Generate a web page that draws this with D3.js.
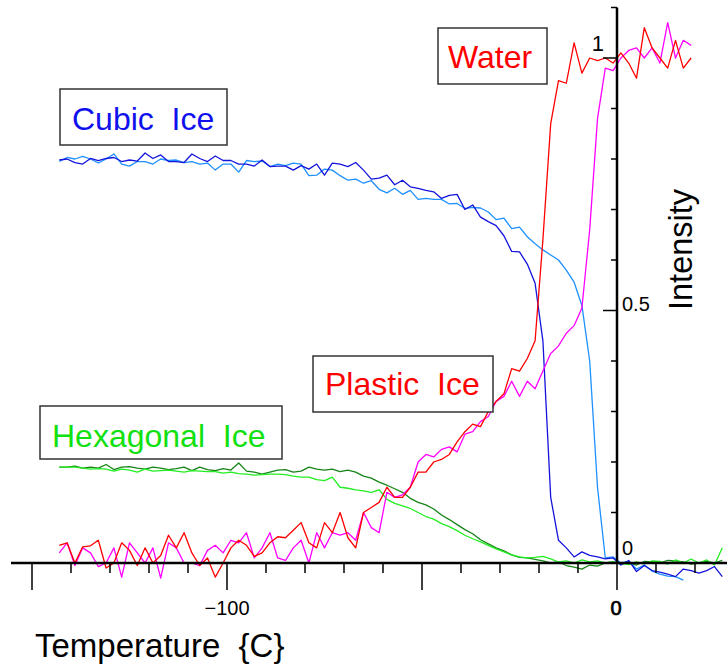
<!DOCTYPE html>
<html>
<head>
<meta charset="utf-8">
<script src="https://cdn.jsdelivr.net/npm/d3@7"></script>
<style>
  body { margin: 0; background: #fff; }
  svg { display: block; font-family: "Liberation Sans", Arial, sans-serif; }
</style>
</head>
<body>
<svg id="chart" width="727" height="666"></svg>
<script>
// temperature grid (C)
const temps = [-143,-141,-139,-137,-135,-133,-131,-129,-127,-125,-123,-121,-119,-117,-115,-113,-111,-109,-107,-105,
  -103,-101,-99,-97,-95,-93,-91,-89,-87,-85,-83,-81,-79,-77,-75,-73,-71,-69,-67,-65,
  -63,-61,-59,-57,-55,-53,-51,-49,-47,-45,-43,-41,-39,-37,-35,-33,-31,-29,-27,-25,
  -23,-21,-19,-17,-15,-13,-11,-9,-7,-5,-3,-1,1,3,5,7,9,11,13,15,17,19,21,23,25,27];

// plastic ice -> water (first run)
const redVals = [0.035,0.04,0.0,0.032,0.034,0.045,-0.01,0.0,0.04,0.025,-0.005,0.03,0.0,0.015,0.055,0.03,0.06,0.02,-0.005,0.01,
  -0.028,0.0,0.03,0.045,0.035,0.013,0.02,0.04,0.052,0.05,0.065,0.08,0.04,0.03,0.08,0.06,0.1,0.05,0.03,0.1,
  0.11,0.12,0.15,0.13,0.13,0.15,0.18,0.18,0.2,0.205,0.215,0.24,0.26,0.275,0.27,0.3,0.32,0.335,0.385,0.38,
  0.405,0.44,0.64,0.87,0.955,0.95,1.03,0.97,1.0,0.995,1.0,0.99,1.01,0.99,0.96,1.06,1.02,1.0,0.98,1.035,0.98,1.0];

// plastic ice -> water (second run)
const magentaVals = [0.02,0.04,-0.005,0.03,0.02,-0.007,0.0,0.03,-0.028,0.04,0.02,0.0,0.03,-0.03,0.04,0.03,0.0,0.0,-0.005,0.025,
  0.035,0.02,0.045,0.04,0.06,0.01,0.03,0.06,0.01,0.005,0.03,0.045,0.0,0.06,0.03,0.06,0.055,0.06,0.045,0.1,
  0.07,0.06,0.14,0.13,0.135,0.15,0.2,0.215,0.21,0.225,0.23,0.22,0.255,0.26,0.28,0.29,0.32,0.33,0.36,0.33,
  0.36,0.345,0.38,0.415,0.43,0.455,0.47,0.505,0.66,0.88,0.98,0.975,1.0,1.015,1.02,1.0,1.02,0.99,1.07,1.0,1.035,1.025];

// cubic ice
const blueVals = [0.798,0.8,0.793,0.79,0.801,0.797,0.801,0.803,0.795,0.798,0.796,0.812,0.801,0.808,0.795,0.795,0.793,0.81,0.801,0.795,
  0.806,0.797,0.797,0.79,0.79,0.786,0.798,0.785,0.786,0.786,0.778,0.787,0.78,0.79,0.768,0.792,0.79,0.785,0.793,0.778,
  0.76,0.762,0.768,0.749,0.758,0.745,0.742,0.738,0.735,0.722,0.728,0.73,0.7,0.709,0.685,0.676,0.668,0.648,0.617,0.616,
  0.592,0.554,0.44,0.13,0.045,0.03,0.012,0.022,0.015,0.012,0.008,0.01,-0.004,0.005,-0.017,-0.005,-0.015,-0.018,-0.022,-0.027,
  -0.012,-0.015,-0.02,-0.015,-0.007,-0.027];

const lightBlueVals = [0.795,0.803,0.8,0.805,0.8,0.792,0.8,0.81,0.79,0.786,0.795,0.795,0.79,0.8,0.797,0.798,0.793,0.795,0.79,0.792,
  0.778,0.79,0.79,0.774,0.797,0.795,0.796,0.785,0.79,0.787,0.792,0.79,0.767,0.768,0.78,0.778,0.767,0.758,0.76,0.752,
  0.757,0.74,0.733,0.742,0.73,0.738,0.72,0.722,0.72,0.72,0.711,0.712,0.702,0.704,0.703,0.695,0.68,0.683,0.662,0.665,
  0.646,0.632,0.62,0.61,0.6,0.58,0.556,0.51,0.4,0.15,0.01,0.012,0.0,0.003,-0.012,-0.004,-0.016,-0.022,-0.026,-0.027,
  -0.034];

// hexagonal ice
const darkGreenVals = [0.19,0.19,0.192,0.188,0.19,0.188,0.195,0.185,0.19,0.191,0.188,0.186,0.19,0.188,0.185,0.187,0.19,0.183,0.19,0.185,
  0.183,0.187,0.184,0.198,0.182,0.18,0.176,0.18,0.184,0.185,0.18,0.182,0.19,0.186,0.184,0.186,0.181,0.184,0.18,0.172,
  0.168,0.16,0.154,0.147,0.14,0.128,0.12,0.115,0.107,0.095,0.086,0.076,0.066,0.058,0.046,0.038,0.03,0.024,0.016,0.011,
  0.01,0.007,0.004,0.0,0.002,-0.005,-0.008,-0.012,-0.004,-0.006,0.0,0.002,-0.002,0.0,-0.004,0.003,0.002,0.0,0.005,0.004,
  0.002,-0.002,0.0,0.003,0.0,0.005];

const lightGreenVals = [0.19,0.19,0.19,0.188,0.186,0.187,0.186,0.182,0.186,0.184,0.18,0.186,0.182,0.183,0.184,0.182,0.18,0.183,0.182,0.181,
  0.181,0.178,0.18,0.177,0.176,0.174,0.175,0.176,0.176,0.175,0.172,0.17,0.17,0.165,0.163,0.17,0.15,0.148,0.145,0.143,
  0.14,0.145,0.126,0.118,0.113,0.108,0.1,0.092,0.087,0.078,0.072,0.064,0.055,0.048,0.042,0.035,0.028,0.022,0.016,0.012,
  0.01,0.011,0.013,0.008,0.002,0.004,0.0,0.006,0.002,0.004,0.0,0.002,0.0,-0.003,0.002,-0.002,0.004,0.003,-0.002,0.006,
  0.0,0.008,0.0,0.006,-0.004,0.03];

const series = [
  { values: darkGreenVals, color: "#178417" },
  { values: lightGreenVals, color: "#22ee22" },
  { values: lightBlueVals, color: "#1e90ff" },
  { values: blueVals, color: "#1414dc" },
  { values: magentaVals, color: "#ff00ff" },
  { values: redVals, color: "#ff0000" }
];

const labels = [
  { text: "Water", color: "#ff0000", box: [438, 28, 109, 56], tx: 448, ty: 68 },
  { text: "Cubic  Ice", color: "#1010ee", box: [60, 89, 167, 56], tx: 72, ty: 130 },
  { text: "Plastic  Ice", color: "#ff0000", box: [313, 356, 180, 56], tx: 325, ty: 395 },
  { text: "Hexagonal  Ice", color: "#11e011", box: [40, 406, 242, 53], tx: 52, ty: 447 }
];

const xMinor = [-150,-140,-130,-120,-110,-100,-90,-80,-70,-60,-50,-40,-30,-20,-10,0,10,20];
const xMajor = [-150,-100,-50,0];
const yMinor = [0,0.1,0.2,0.3,0.4,0.5,0.6,0.7,0.8,0.9,1.0,1.1];
const yMajor = [0,0.5,1];

const svg = d3.select("#chart");
const x = d3.scaleLinear().domain([-150, 0]).range([32, 617]);
const y = d3.scaleLinear().domain([0, 1]).range([563, 58]);

const line = d3.line()
  .x(d => x(d[0]))
  .y(d => y(d[1]));

// data lines
series.forEach(s => {
  const pts = s.values.map((v, i) => [temps[i], v]);
  svg.append("path")
    .datum(pts)
    .attr("fill", "none")
    .attr("stroke", s.color)
    .attr("stroke-width", 1.3)
    .attr("stroke-linejoin", "round")
    .attr("d", line);
});

// x axis
svg.append("line")
  .attr("x1", 11).attr("x2", 727)
  .attr("y1", y(0)).attr("y2", y(0))
  .attr("stroke", "#000").attr("stroke-width", 2.5);

svg.append("g").selectAll("line")
  .data(xMinor)
  .join("line")
  .attr("x1", d => x(d)).attr("x2", d => x(d))
  .attr("y1", y(0)).attr("y2", d => y(0) + (xMajor.includes(d) ? 27 : 10))
  .attr("stroke", "#000").attr("stroke-width", 1.5);

svg.append("text")
  .attr("x", x(-100)).attr("y", 615)
  .attr("text-anchor", "middle")
  .style("font-size", "20px")
  .text("\u2212100");
// the zero label is printed slightly doubled in the original
svg.append("text")
  .attr("x", x(0) - 1).attr("y", 615)
  .attr("text-anchor", "middle")
  .attr("stroke", "#000").attr("stroke-width", 0.7)
  .style("font-size", "20px")
  .text("0");

svg.append("text")
  .attr("x", 35).attr("y", 657)
  .style("font-size", "33px")
  .attr("xml:space", "preserve")
  .text("Temperature  {C}");

// y axis
svg.append("line")
  .attr("x1", x(0)).attr("x2", x(0))
  .attr("y1", y(1.1)).attr("y2", y(0))
  .attr("stroke", "#000").attr("stroke-width", 2.5);

svg.append("g").selectAll("line")
  .data(yMinor)
  .join("line")
  .attr("x1", d => x(0) - (yMajor.includes(d) ? 14 : 6)).attr("x2", x(0))
  .attr("y1", d => y(d)).attr("y2", d => y(d))
  .attr("stroke", "#000").attr("stroke-width", 1.5);

svg.append("text")
  .attr("x", 604).attr("y", 51)
  .attr("text-anchor", "end")
  .style("font-size", "22px")
  .text("1");
svg.append("text")
  .attr("x", 622).attr("y", y(0.5))
  .style("font-size", "20px")
  .text("0.5");
svg.append("text")
  .attr("x", 622).attr("y", 555)
  .style("font-size", "20px")
  .text("0");

svg.append("text")
  .attr("transform", "translate(692,310) rotate(-90)")
  .style("font-size", "32.5px")
  .text("Intensity");

// labelled boxes
labels.forEach(l => {
  svg.append("rect")
    .attr("x", l.box[0]).attr("y", l.box[1])
    .attr("width", l.box[2]).attr("height", l.box[3])
    .attr("fill", "#fff")
    .attr("stroke", "#333").attr("stroke-width", 1.5);
  svg.append("text")
    .attr("x", l.tx).attr("y", l.ty)
    .attr("fill", l.color)
    .attr("xml:space", "preserve")
    .style("font-size", "32px")
    .text(l.text);
});
</script>
</body>
</html>
